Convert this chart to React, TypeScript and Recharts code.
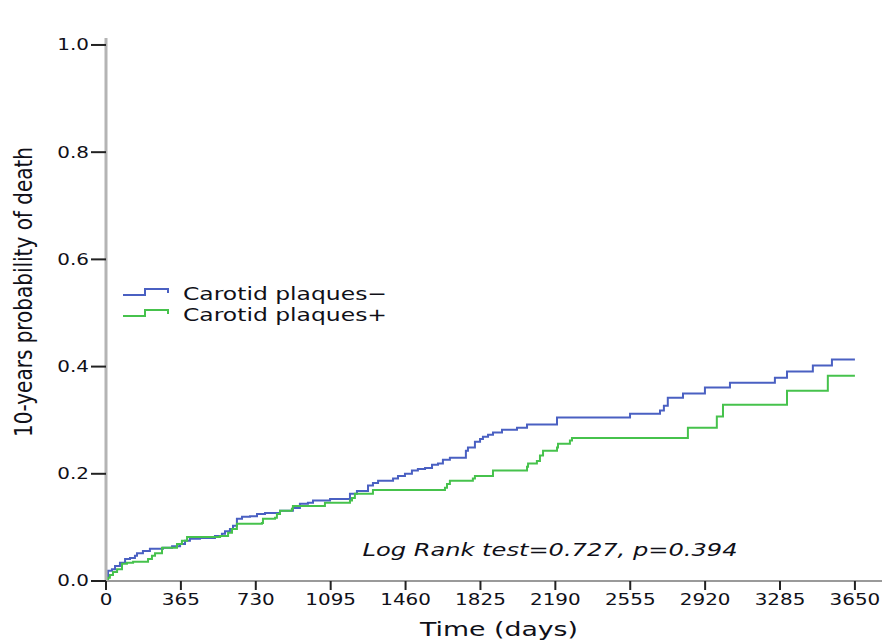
import { LineChart, Line, XAxis, YAxis, Legend, Label, Customized } from 'recharts';

const blueDays = [0, 10, 29, 44, 68, 93, 117, 141, 151, 180, 214, 278, 322, 361, 385, 409, 458, 531, 565, 580, 604, 619, 638, 663, 702, 736, 775, 848, 911, 945, 984, 1009, 1092, 1189, 1223, 1277, 1301, 1326, 1399, 1423, 1457, 1491, 1520, 1555, 1589, 1618, 1642, 1676, 1754, 1764, 1798, 1823, 1837, 1862, 1886, 1930, 2003, 2052, 2198, 2554, 2700, 2719, 2738, 2812, 2919, 3041, 3260, 3319, 3445, 3538, 3650];
const blueProb = [0, 0.019, 0.022, 0.028, 0.034, 0.041, 0.043, 0.047, 0.052, 0.056, 0.06, 0.062, 0.065, 0.069, 0.075, 0.079, 0.08, 0.084, 0.088, 0.093, 0.097, 0.103, 0.116, 0.12, 0.121, 0.125, 0.127, 0.131, 0.136, 0.144, 0.146, 0.15, 0.153, 0.163, 0.168, 0.178, 0.183, 0.187, 0.191, 0.196, 0.2, 0.206, 0.209, 0.211, 0.217, 0.219, 0.226, 0.23, 0.243, 0.249, 0.26, 0.265, 0.269, 0.273, 0.277, 0.282, 0.286, 0.292, 0.305, 0.312, 0.318, 0.327, 0.342, 0.35, 0.361, 0.37, 0.379, 0.391, 0.402, 0.413, 0.413];

const greenDays = [0, 10, 19, 34, 54, 78, 102, 132, 205, 224, 239, 273, 346, 370, 395, 556, 595, 614, 638, 760, 765, 824, 833, 848, 906, 911, 1067, 1189, 1199, 1213, 1301, 1652, 1662, 1676, 1788, 1798, 1886, 2052, 2057, 2100, 2115, 2130, 2198, 2203, 2261, 2271, 2836, 2977, 3007, 3319, 3518, 3650];
const greenProb = [0, 0.006, 0.011, 0.017, 0.022, 0.032, 0.034, 0.036, 0.041, 0.047, 0.052, 0.062, 0.069, 0.075, 0.082, 0.084, 0.09, 0.097, 0.107, 0.108, 0.116, 0.118, 0.125, 0.131, 0.135, 0.14, 0.146, 0.15, 0.155, 0.163, 0.17, 0.174, 0.181, 0.187, 0.191, 0.196, 0.206, 0.213, 0.219, 0.224, 0.234, 0.243, 0.249, 0.256, 0.262, 0.267, 0.286, 0.307, 0.329, 0.355, 0.383, 0.383];

const xTicks = [0, 365, 730, 1095, 1460, 1825, 2190, 2555, 2920, 3285, 3650];
const yTicks = [0, 0.2, 0.4, 0.6, 0.8, 1.0];

const seriesNames = ['Carotid plaques\u2212', 'Carotid plaques+'];
const seriesColors = ['#4a60c2', '#46c24c'];
const annotation = 'Log Rank test=0.727, p=0.394';

const blueData = blueDays.map((d, i) => ({ day: d, p: blueProb[i] }));
const greenData = greenDays.map((d, i) => ({ day: d, p: greenProb[i] }));

const FONT = '"DejaVu Sans", Verdana, sans-serif';
const INK = '#101018';
// the reference image is stretched sideways, so text is widened to match
const SX = 1.33;

function XTick({ x, y, payload }: any) {
  return (
    <g transform={`translate(${x},${y + 13}) scale(${SX},1)`}>
      <text textAnchor="middle" fontFamily={FONT} fontSize={15} fontWeight={500} fill={INK}>
        {payload.value}
      </text>
    </g>
  );
}

function YTick({ x, y, payload }: any) {
  return (
    <g transform={`translate(${x},${y}) scale(${SX},1)`}>
      <text textAnchor="end" dy="0.36em" fontFamily={FONT} fontSize={15} fontWeight={500} fill={INK}>
        {Number(payload.value).toFixed(1)}
      </text>
    </g>
  );
}

function YTitle() {
  return (
    <g transform={`translate(32,292) scale(${SX},1) rotate(-90)`}>
      <text textAnchor="middle" fontFamily={FONT} fontSize={19} fill={INK} textLength={290} lengthAdjust="spacingAndGlyphs">
        10-years probability of death
      </text>
    </g>
  );
}

function XTitle() {
  return (
    <text x={499} y={636} textAnchor="middle" fontFamily={FONT} fontSize={20} fill={INK} textLength={158} lengthAdjust="spacingAndGlyphs">
      Time (days)
    </text>
  );
}

function LegendBox({ payload }: any) {
  const items = seriesNames
    .map((n) => (payload || []).find((it: any) => it.value === n))
    .filter(Boolean);
  return (
    <svg width={290} height={50} style={{ display: 'block' }}>
      {items.map((it: any, i: number) => {
        const base = 18 + i * 21;
        return (
          <g key={i}>
            <path
              d={`M5 ${base} H27 V${base - 6} H50 V${base - 2}`}
              fill="none"
              stroke={it.color}
              strokeWidth={2}
            />
            <text x={65} y={base + 5} fontFamily={FONT} fontSize={18} fill={INK} textLength={204} lengthAdjust="spacingAndGlyphs">
              {it.value}
            </text>
          </g>
        );
      })}
    </svg>
  );
}

function Annotation() {
  return (
    <text x={550} y={556} textAnchor="middle" fontFamily={FONT} fontStyle="italic" fontSize={18} fill={INK} textLength={375} lengthAdjust="spacingAndGlyphs">
      {annotation}
    </text>
  );
}

export default function App() {
  return (
    <div style={{ position: 'absolute', left: 0, top: 0, width: 885, height: 642, background: '#fff' }}>
      <LineChart width={885} height={642} margin={{ top: 38, right: 3, bottom: 0, left: 0 }}>
        <XAxis
          type="number"
          dataKey="day"
          domain={[0, 3782]}
          ticks={xTicks}
          tick={<XTick />}
          tickSize={9}
          height={61}
          allowDataOverflow
          axisLine={{ stroke: '#9a9a9a', strokeWidth: 2 }}
          tickLine={{ stroke: '#222', strokeWidth: 2 }}
        >
          <Label content={<XTitle />} />
        </XAxis>
        <YAxis
          type="number"
          domain={[0, 1.013]}
          ticks={yTicks}
          tick={<YTick />}
          tickSize={15}
          width={106}
          allowDataOverflow
          axisLine={{ stroke: '#b4b4b4', strokeWidth: 3 }}
          tickLine={{ stroke: '#222', strokeWidth: 2 }}
        >
          <Label content={<YTitle />} />
        </YAxis>
        <Legend
          layout="horizontal"
          verticalAlign="middle"
          align="center"
          content={<LegendBox />}
          wrapperStyle={{ left: 118, top: 277, width: 290, height: 50 }}
        />
        <Line
          data={blueData}
          dataKey="p"
          name={seriesNames[0]}
          type="stepAfter"
          stroke={seriesColors[0]}
          strokeWidth={2}
          dot={false}
          isAnimationActive={false}
        />
        <Line
          data={greenData}
          dataKey="p"
          name={seriesNames[1]}
          type="stepAfter"
          stroke={seriesColors[1]}
          strokeWidth={2}
          dot={false}
          isAnimationActive={false}
        />
        <Customized component={Annotation} />
      </LineChart>
    </div>
  );
}
